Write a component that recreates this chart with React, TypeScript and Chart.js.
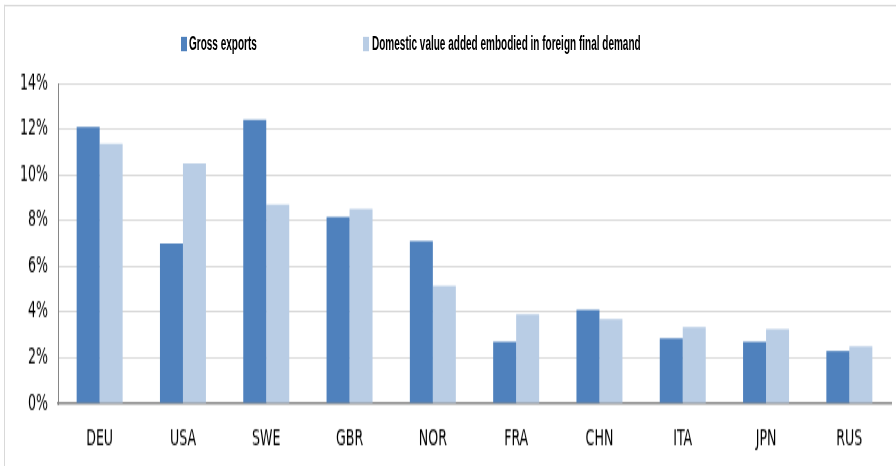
import React, { useEffect, useRef } from "react";
import { Chart, registerables } from "chart.js";

Chart.register(...registerables);

const categories = ["DEU", "USA", "SWE", "GBR", "NOR", "FRA", "CHN", "ITA", "JPN", "RUS"];
const grossExports = [12.1, 7.0, 12.4, 8.15, 7.1, 2.7, 4.1, 2.85, 2.7, 2.3];
const domesticVA = [11.35, 10.5, 8.7, 8.5, 5.15, 3.9, 3.7, 3.35, 3.25, 2.5];
const seriesNames = ["Gross exports", "Domestic value added embodied in foreign final demand"];
const seriesColors = ["#4F81BD", "#B9CDE5"];
const yMin = 0;
const yMax = 14;
const yStep = 2;

const W = 896;
const H = 466;
const LH = 291; // logical canvas height, stretched vertically to H
const FONT = "'Liberation Sans Narrow', 'Arial Narrow', 'DejaVu Sans Condensed', sans-serif";
const LEGEND_FONT = "'Liberation Sans', Arial, sans-serif";

export default function App() {
  const ref = useRef<HTMLCanvasElement | null>(null);

  useEffect(() => {
    if (!ref.current) return;
    const chart = new Chart(ref.current, {
      type: "bar",
      data: {
        labels: categories,
        datasets: [
          {
            label: seriesNames[0],
            data: grossExports,
            backgroundColor: seriesColors[0],
            borderWidth: 0,
            barPercentage: 1,
            categoryPercentage: 0.552,
          },
          {
            label: seriesNames[1],
            data: domesticVA,
            backgroundColor: seriesColors[1],
            borderWidth: 0,
            barPercentage: 1,
            categoryPercentage: 0.552,
          },
        ],
      },
      options: {
        animation: false,
        responsive: false,
        devicePixelRatio: 1,
        layout: { padding: { left: 0, right: 5, top: 52, bottom: 0 } },
        plugins: {
          legend: { display: false },
          tooltip: { enabled: false },
        },
        scales: {
          x: {
            grid: { display: false },
            border: { display: true, color: "#868686", width: 1.5 },
            ticks: {
              color: "#000",
              font: { family: FONT, size: 14 },
              padding: 6,
              maxRotation: 0,
            },
            afterFit: (s: any) => {
              s.height = LH - 252;
            },
          },
          y: {
            min: yMin,
            max: yMax,
            ticks: {
              stepSize: yStep,
              color: "#000",
              font: { family: FONT, size: 14 },
              padding: 10,
              callback: (v: any) => `${v}%`,
            },
            grid: {
              color: (ctx: any) => (ctx.tick && ctx.tick.value === 0 ? "rgba(0,0,0,0)" : "#D9D9D9"),
              lineWidth: 1,
              drawTicks: false,
            },
            border: { display: true, color: "#868686", width: 1 },
            afterFit: (s: any) => {
              s.width = 58;
            },
          },
        },
      },
    });
    return () => chart.destroy();
  }, []);

  const legendText: React.CSSProperties = {
    fontFamily: LEGEND_FONT,
    fontWeight: "bold",
    fontSize: 13,
    color: "#000",
    whiteSpace: "nowrap",
    lineHeight: "10px",
    display: "inline-block",
    transform: "scaleX(0.77)",
    transformOrigin: "0 50%",
  };

  return (
    <div
      style={{
        position: "fixed",
        left: 0,
        top: 0,
        width: W,
        height: LH,
        overflow: "hidden",
        background: "#fff",
        transform: `scaleY(${H / LH})`,
        transformOrigin: "0 0",
      }}
    >
      <div
        style={{
          position: "absolute",
          left: 4,
          top: 3,
          width: W,
          height: LH,
          borderTop: "1px solid #D9D9D9",
          borderLeft: "1px solid #D9D9D9",
        }}
      />
      <canvas
        ref={ref}
        width={W}
        height={LH}
        style={{ position: "absolute", left: 0, top: 0, width: W, height: LH }}
      />
      {[181, 363].map((left, i) => (
        <div
          key={i}
          style={{ position: "absolute", left, top: 22, height: 10, display: "flex", alignItems: "center" }}
        >
          <span style={{ display: "inline-block", width: 6, height: 9, background: seriesColors[i], marginRight: i === 0 ? 2 : 3 }} />
          <span style={legendText}>{seriesNames[i]}</span>
        </div>
      ))}
    </div>
  );
}
